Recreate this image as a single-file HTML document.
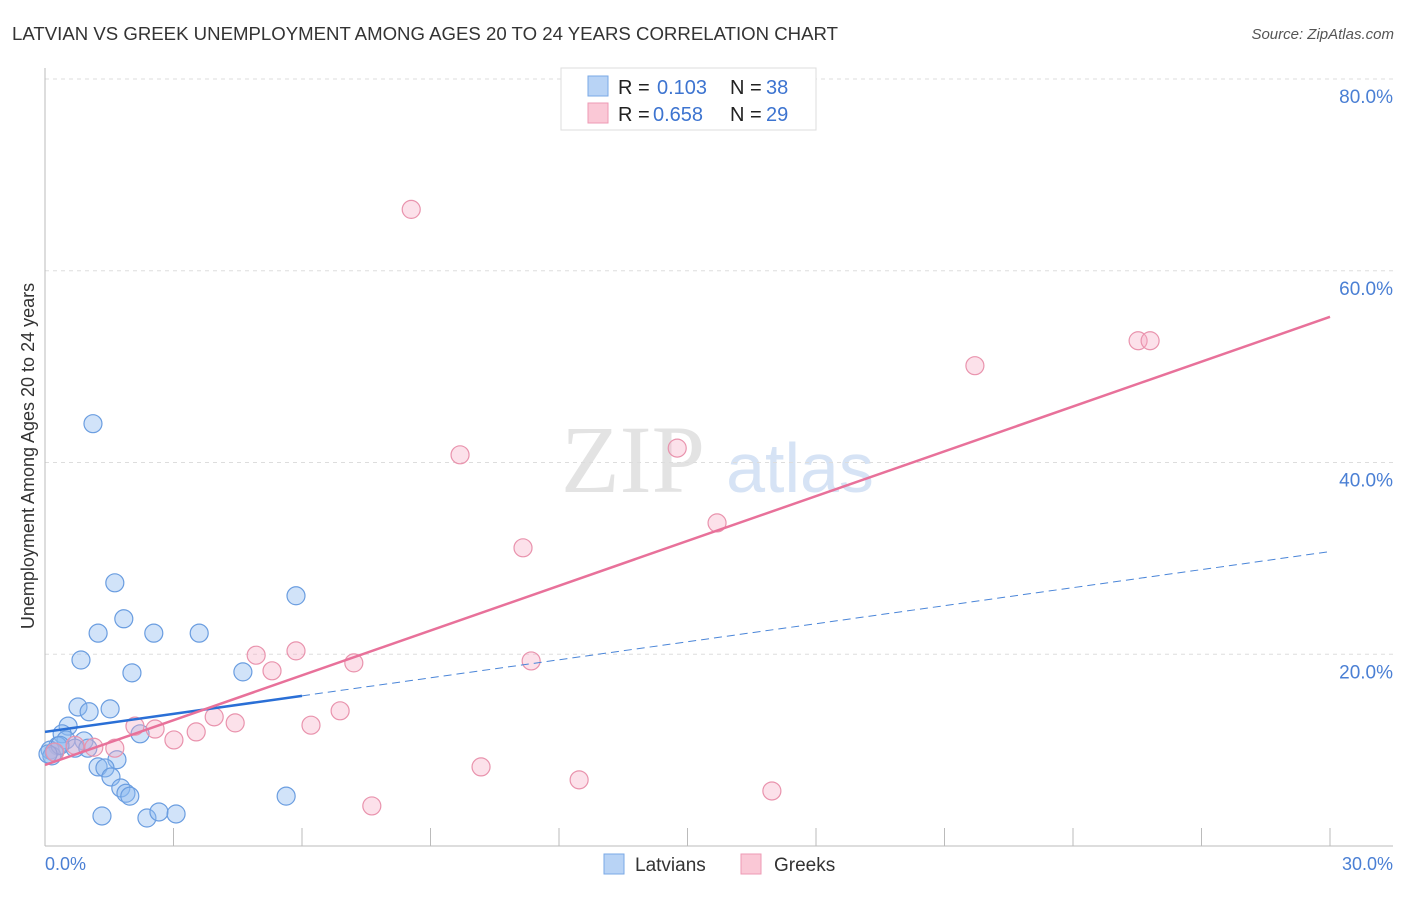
<!DOCTYPE html>
<html><head><meta charset="utf-8"><style>
body{margin:0;background:#fff;font-family:"Liberation Sans",sans-serif}
</style></head><body>
<svg width="1406" height="892" xmlns="http://www.w3.org/2000/svg">
<text x="12" y="40" font-size="18" fill="#333" textLength="826" lengthAdjust="spacingAndGlyphs">LATVIAN VS GREEK UNEMPLOYMENT AMONG AGES 20 TO 24 YEARS CORRELATION CHART</text>
<text x="1394" y="39" font-size="15" fill="#555" text-anchor="end" font-style="italic">Source: ZipAtlas.com</text>
<text x="633" y="492" font-size="96" fill="#e3e3e3" text-anchor="middle" font-family="Liberation Serif">ZIP</text>
<text x="800" y="492" font-size="70" fill="#d6e3f5" text-anchor="middle">atlas</text>
<g id="grid"></g>
<g id="axes"></g>
<g id="marks"></g>
<text transform="translate(34,456) rotate(-90)" font-size="18" fill="#333" text-anchor="middle">Unemployment Among Ages 20 to 24 years</text>
<text x="45" y="870" font-size="18" fill="#4a7fd4">0.0%</text>
<text x="1393" y="870" font-size="18" fill="#4a7fd4" text-anchor="end">30.0%</text>
<g>
<rect x="561" y="68" width="255" height="62" fill="#fff" stroke="#ddd"/>
<rect x="588" y="76" width="20" height="20" fill="#b8d3f5" stroke="#7aa8e6"/>
<rect x="588" y="103" width="20" height="20" fill="#fac8d6" stroke="#ee9ab4"/>
<text x="618" y="94" font-size="20" fill="#222">R = <tspan x="657" fill="#3d74d0">0.103</tspan><tspan x="730">N = </tspan><tspan x="766" fill="#3d74d0">38</tspan></text>
<text x="618" y="121" font-size="20" fill="#222">R = <tspan x="653" fill="#3d74d0">0.658</tspan><tspan x="730">N = </tspan><tspan x="766" fill="#3d74d0">29</tspan></text>
</g>
<g>
<rect x="604" y="854" width="20" height="20" fill="#b8d3f5" stroke="#7aa8e6"/>
<text x="635" y="871" font-size="19" fill="#333">Latvians</text>
<rect x="741" y="854" width="20" height="20" fill="#fac8d6" stroke="#ee9ab4"/>
<text x="774" y="871" font-size="19" fill="#333">Greeks</text>
</g>
</svg>
<script>
const yTicks=[20,40,60,80];
const yTickLabels=["20.0%","40.0%","60.0%","80.0%"];
const xTicks=[0,3,6,9,12,15,18,21,24,27,30];
const latviansX=[1.12,1.63,5.86,1.84,1.24,2.54,3.6,0.84,2.03,4.62,0.77,1.03,1.52,0.54,2.22,0.4,0.49,0.91,0.3,0.7,1.0,0.12,0.21,0.16,1.68,1.24,1.4,1.54,1.77,1.89,1.98,5.63,1.33,2.38,2.66,3.06,0.35,0.07];
const latviansY=[44.05,27.45,26.1,23.7,22.2,22.2,22.2,19.4,18.06,18.16,14.5,14.0,14.3,12.5,11.7,11.7,11.06,10.96,10.44,10.2,10.2,10.0,9.8,9.4,9.0,8.25,8.14,7.2,6.05,5.5,5.2,5.2,3.13,2.92,3.55,3.34,10.5,9.6];
const greeksX=[8.55,9.69,14.76,25.52,25.8,21.71,15.69,11.16,4.93,5.86,5.3,7.21,11.35,3.95,4.44,6.89,6.21,3.53,3.01,2.57,2.1,1.63,1.14,0.7,0.23,10.18,12.47,16.97,7.63];
const greeksY=[66.4,40.8,41.5,52.7,52.7,50.1,33.7,31.1,19.9,20.35,18.27,19.1,19.3,13.47,12.84,14.1,12.6,11.9,11.06,12.2,12.5,10.2,10.3,10.5,9.8,8.25,6.9,5.74,4.18];
const latviansTrend=[11.9,0.627];
const greeksTrend=[8.45,1.558];
const NS='http://www.w3.org/2000/svg';
const sx=v=>45+v*(1285/30);
const sy=v=>846-v*(767/80);
function mk(t,a,p){const e=document.createElementNS(NS,t);for(const k in a)e.setAttribute(k,a[k]);document.getElementById(p).appendChild(e);return e;}
yTicks.forEach((t,i)=>{
 const l=mk('line',{x1:45,x2:1393,y1:sy(t),y2:sy(t),stroke:'#ddd','stroke-dasharray':'4,4'},'grid');
 
 
 const tx=mk('text',{x:1393,y:sy(t)+24,'font-size':19,fill:'#4a7fd4','text-anchor':'end'},'grid');
 tx.textContent=yTickLabels[i];
 
 
});
const ax=mk('line',{x1:45,x2:45,y1:68,y2:846,stroke:'#bbb'},'axes');


const bx=mk('line',{x1:45,x2:1393,y1:846,y2:846,stroke:'#bbb'},'axes');


xTicks.forEach(t=>{
 const l=mk('line',{x1:sx(t),x2:sx(t),y1:828,y2:846,stroke:'#bbb'},'axes');
 
 
});
function pts(X,Y,fill,stroke,name){X.forEach((x,i)=>{
 const c=mk('circle',{cx:sx(x),cy:sy(Y[i]),r:9,fill:fill,stroke:stroke,'stroke-width':1.2},'marks');
 
 
});}
pts(latviansX,latviansY,'rgba(140,185,240,0.4)','#6a9de0','latvian-point');
pts(greeksX,greeksY,'rgba(245,170,195,0.35)','#e993ad','greek-point');
const bt=v=>latviansTrend[0]+latviansTrend[1]*v;
const gt=v=>greeksTrend[0]+greeksTrend[1]*v;
const l1=mk('line',{x1:sx(0),y1:sy(bt(0)),x2:sx(6),y2:sy(bt(6)),stroke:'#2a6fd6','stroke-width':2.5},'marks');


const l2=mk('line',{x1:sx(6),y1:sy(bt(6)),x2:sx(30),y2:sy(bt(30)),stroke:'#4a85d8','stroke-width':1,'stroke-dasharray':'8,5'},'marks');


const l3=mk('line',{x1:sx(0),y1:sy(gt(0)),x2:sx(30),y2:sy(gt(30)),stroke:'#e8719a','stroke-width':2.5},'marks');


</script>
</body></html>
